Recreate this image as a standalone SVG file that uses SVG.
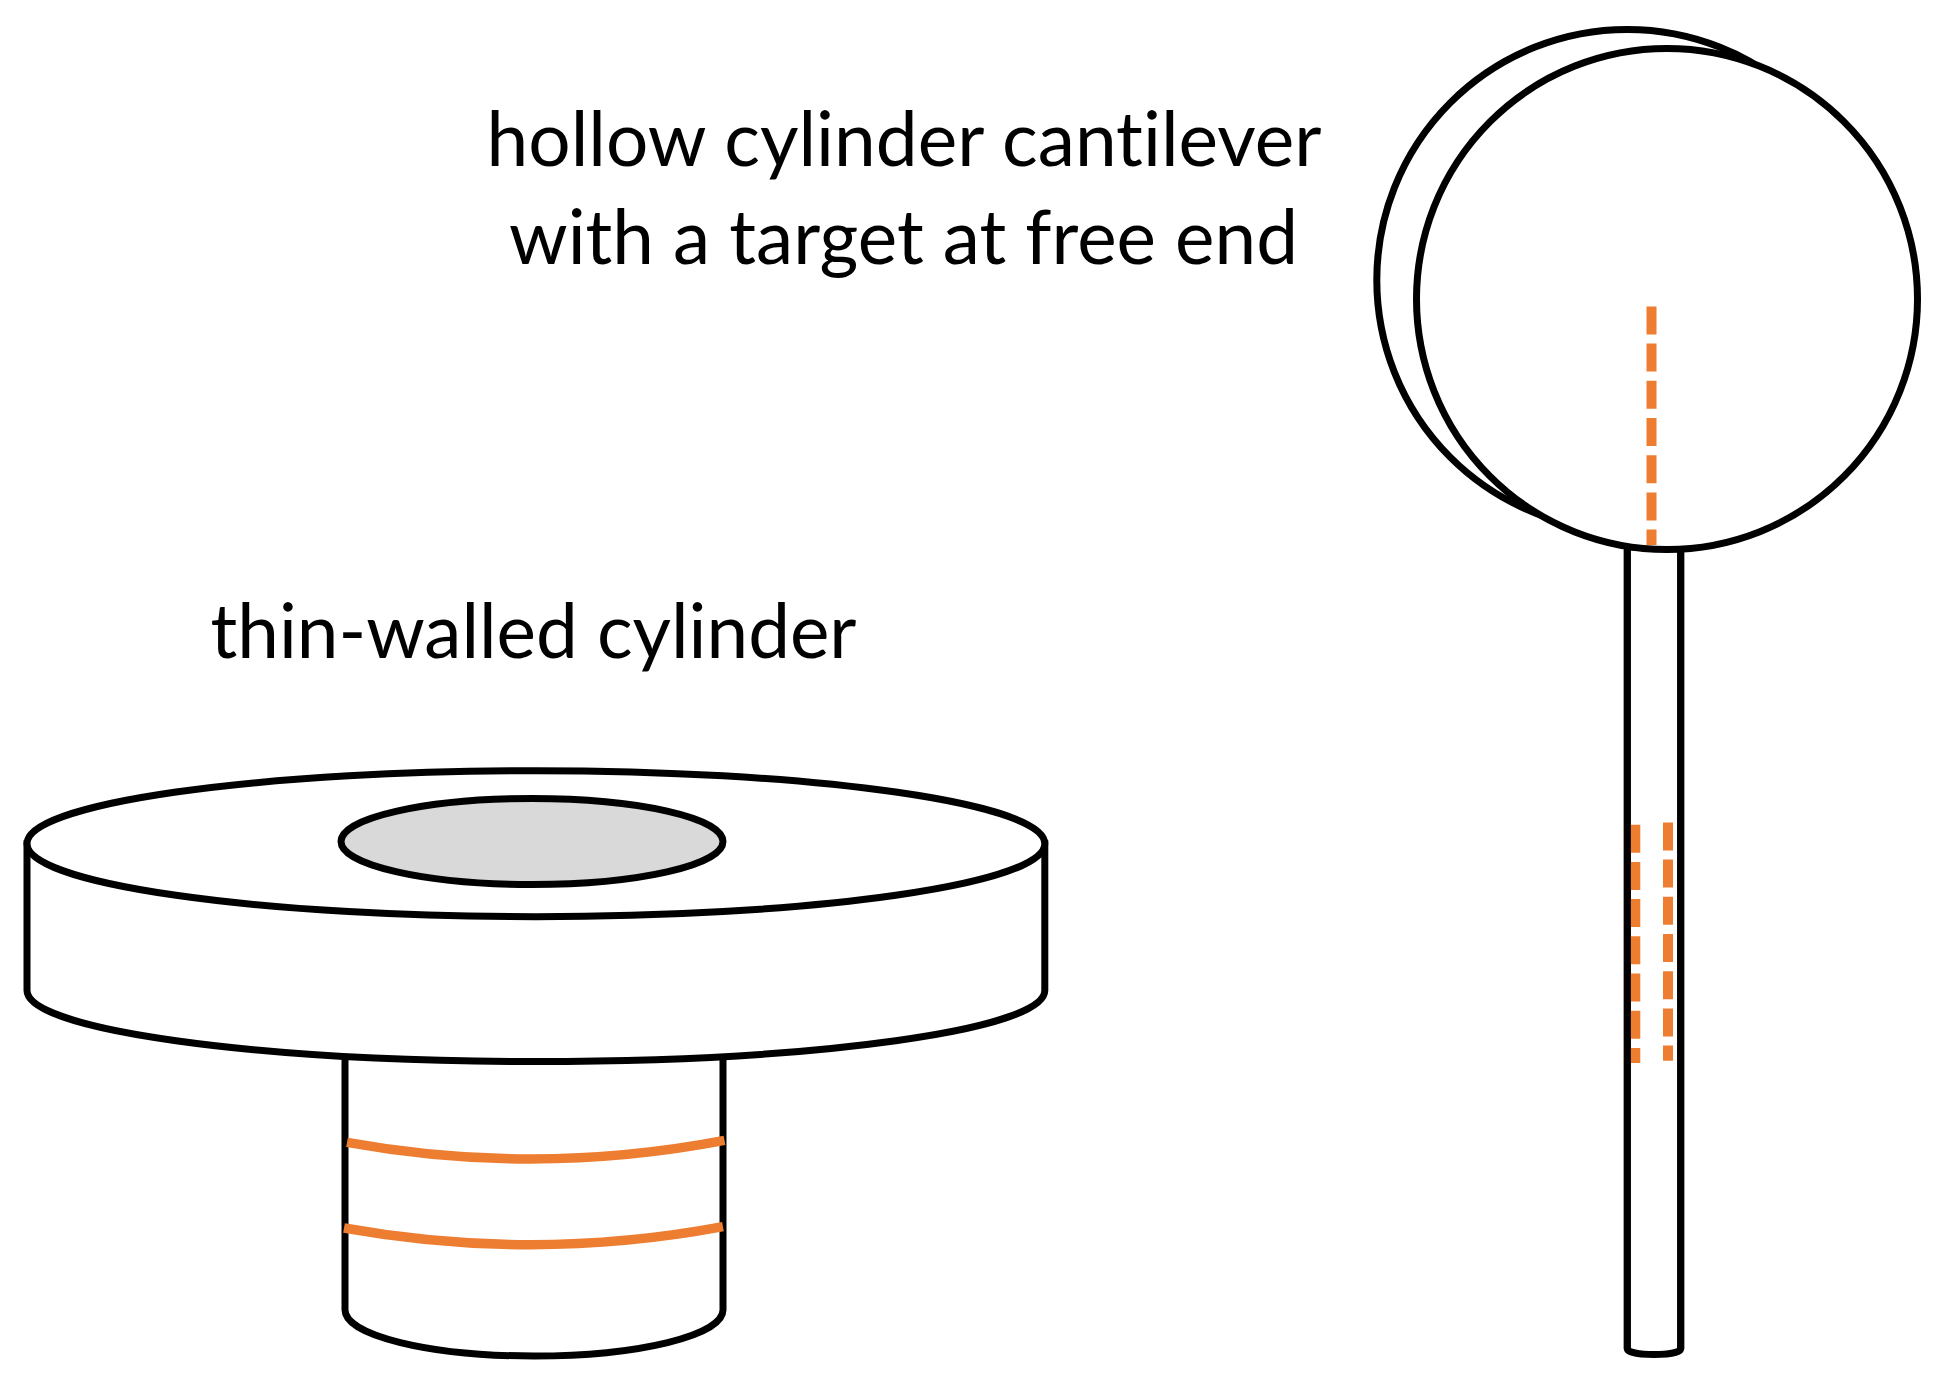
<svg xmlns="http://www.w3.org/2000/svg" width="1935" height="1384" viewBox="0 0 1935 1384">
<style>
.k{fill:none;stroke:#000;stroke-width:7}
.w{fill:#fff;stroke:#000;stroke-width:7}
.o{fill:none;stroke:#ed7d31;stroke-width:9.5}
.d{fill:none;stroke:#ed7d31;stroke-width:10;stroke-dasharray:28 9.2}
.t{font-family:"Lato","Open Sans",sans-serif;font-size:75px;fill:#000;font-variant-ligatures:none}
</style>
<rect width="1935" height="1384" fill="#fff"/>
<g id="label-cantilever">
<text class="t" x="486.5" y="166" textLength="835" lengthAdjust="spacingAndGlyphs">hollow cylinder cantilever</text>
<text class="t" x="509" y="263.5" textLength="789" lengthAdjust="spacingAndGlyphs">with a target at free end</text>
</g>
<g id="label-thin-walled">
<text class="t" x="210.5" y="658" textLength="646" lengthAdjust="spacingAndGlyphs">thin-walled cylinder</text>
</g>
<g id="hollow-cantilever">
<circle class="w" cx="1627.3" cy="280" r="250.5"/>
<path class="w" d="M1627.3 547V1349A26.7 5.5 0 0 0 1680.7 1349V547Z"/>
<circle class="w" cx="1667" cy="299" r="250.5"/>
<path class="d" d="M1651.5 306.4V545"/>
<path class="d" d="M1635.3 824.7V1063"/>
<path class="d" d="M1668 822.4V1060.8"/>
<path class="k" d="M1627.3 550V1349M1680.7 550V1349"/>
</g>
<g id="thin-walled-cylinder">
<path class="w" d="M345 1040V1310A189 46 0 0 0 723 1310V1040Z"/>
<path class="o" d="M347 1142.3Q536 1176.5 724.5 1140.4"/>
<path class="o" d="M344 1228Q534 1262 723 1226.6"/>
<path class="w" d="M27 843.7V990.5A508.8 71 0 0 0 1044.8 990.5V843.7Z"/>
<ellipse class="w" cx="535.9" cy="843.7" rx="508.9" ry="73"/>
<ellipse cx="532" cy="841.5" rx="191" ry="43" fill="#d9d9d9" stroke="#000" stroke-width="7"/>
</g>
<g id="connectors"/>
</svg>
